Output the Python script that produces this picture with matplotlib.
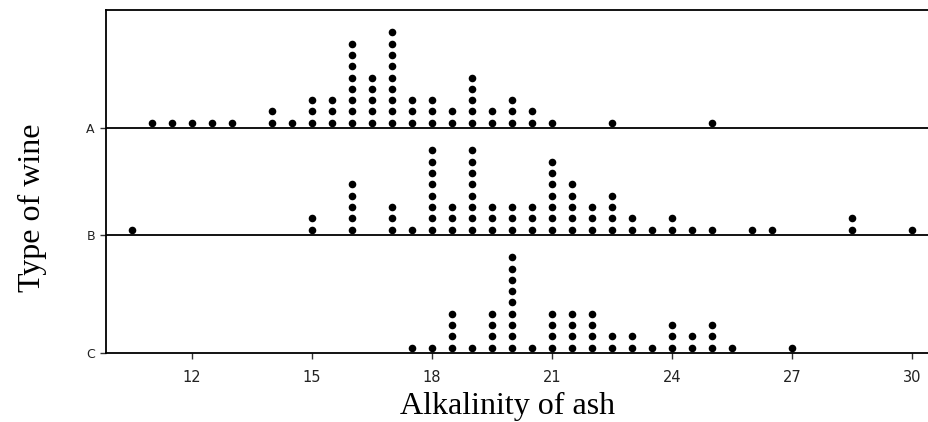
import numpy as np
import matplotlib.pyplot as plt

# alkalinity bins (width 0.5) and number of wines in each
binsA = [11.0, 11.5, 12.0, 12.5, 13.0, 14.0, 14.5, 15.0, 15.5, 16.0, 16.5, 17.0,
         17.5, 18.0, 18.5, 19.0, 19.5, 20.0, 20.5, 21.0, 22.5, 25.0]
countsA = [1, 1, 1, 1, 1, 2, 1, 3, 3, 8, 5, 9, 3, 3, 2, 5, 2, 3, 2, 1, 1, 1]

binsB = [10.5, 15.0, 16.0, 17.0, 17.5, 18.0, 18.5, 19.0, 19.5, 20.0, 20.5, 21.0,
         21.5, 22.0, 22.5, 23.0, 23.5, 24.0, 24.5, 25.0, 26.0, 26.5, 28.5, 30.0]
countsB = [1, 2, 5, 3, 1, 8, 3, 8, 3, 3, 3, 7, 5, 3, 4, 2, 1, 2, 1, 1, 1, 1, 2, 1]

binsC = [17.5, 18.0, 18.5, 19.0, 19.5, 20.0, 20.5, 21.0, 21.5, 22.0, 22.5, 23.0,
         23.5, 24.0, 24.5, 25.0, 25.5, 27.0]
countsC = [1, 1, 4, 1, 4, 9, 1, 4, 4, 4, 2, 2, 1, 3, 2, 3, 1, 1]

groups = ['A', 'B', 'C']
xticks = [12, 15, 18, 21, 24, 27, 30]

# baselines of each row, in "dot" units (one dot = one unit of height)
base = {'A': 19.9, 'B': 10.45, 'C': 0.0}
data = {'A': (binsA, countsA), 'B': (binsB, countsB), 'C': (binsC, countsC)}

fig = plt.figure(figsize=(9.29, 4.22), dpi=100)
ax = fig.add_axes([0.1141, 0.1635, 0.8848, 0.8128])

for g in groups:
    bins, counts = data[g]
    xs, ys = [], []
    for b, c in zip(bins, counts):
        for k in range(c):
            xs.append(b)
            ys.append(base[g] + 0.47 + k)
    ax.scatter(xs, ys, s=30, color='black', linewidths=0, zorder=3)
    if g != 'C':
        ax.axhline(base[g], color='black', lw=1.3, zorder=2)

ax.set_xlim(9.85, 30.4)
ax.set_ylim(0, 30.35)
ax.set_xticks(xticks)
ax.set_xticklabels([str(t) for t in xticks], fontsize=10.5, family='DejaVu Sans')
ax.set_yticks([base[g] for g in groups])
ax.set_yticklabels(groups, fontsize=9, family='DejaVu Sans')
ax.tick_params(axis='both', direction='out', length=4, width=1, color='#333333',
               labelcolor='#222222', pad=4)
ax.tick_params(axis='x', pad=8)
ax.spines['right'].set_visible(False)
for s in ['left', 'top', 'bottom']:
    ax.spines[s].set_linewidth(1.3)

ax.set_xlabel('Alkalinity of ash', family='Liberation Serif', fontsize=23)
ax.set_ylabel('Type of wine', family='Liberation Serif', fontsize=23)
ax.xaxis.set_label_coords(0.489, -0.115)
ax.yaxis.set_label_coords(-0.072, 0.423)

fig.savefig('out.png', dpi=100)
